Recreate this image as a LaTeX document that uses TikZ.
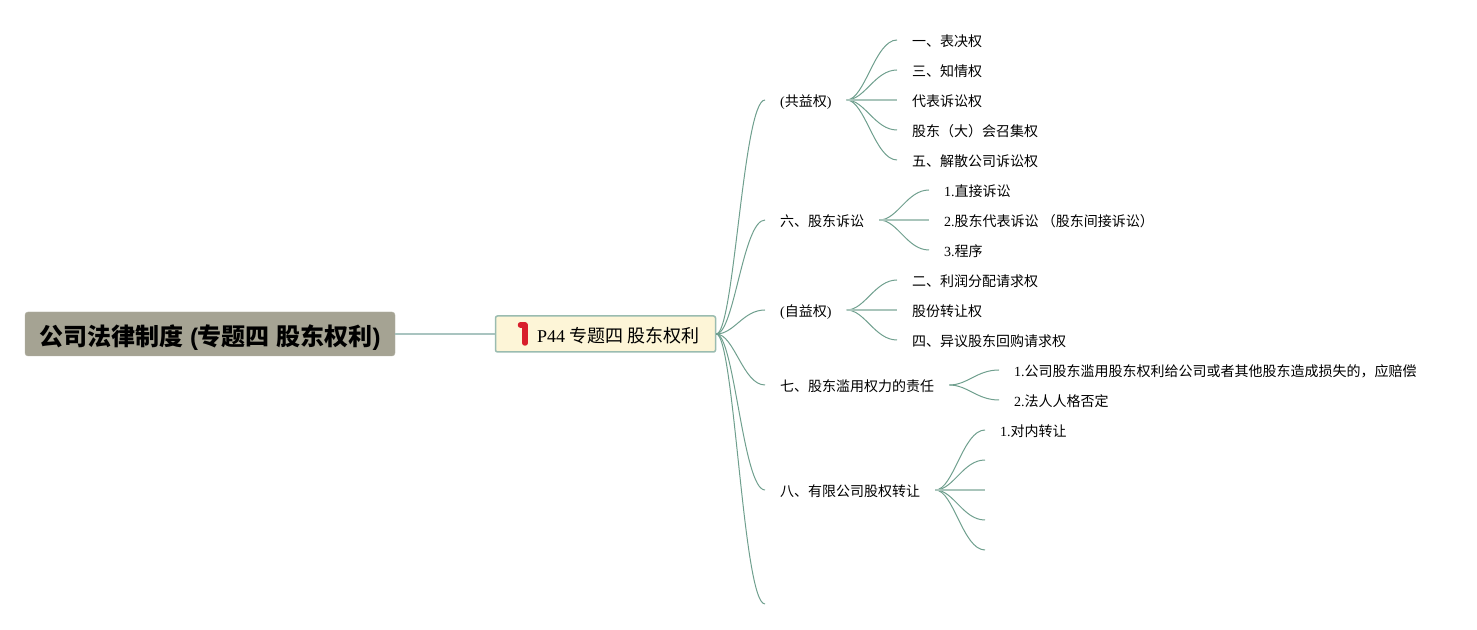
\documentclass[tikz,border=0pt]{standalone}
\usepackage{fontspec}
\setmainfont{Liberation Serif}
\newfontfamily\cjk{Noto Sans CJK SC}
\newfontfamily\titlefont{Liberation Sans}[BoldFont={Liberation Sans Bold}]
\newfontfamily\titlecjk{Noto Sans CJK SC Bold}
\usepackage{tikz}
\usetikzlibrary{positioning, arrows.meta, calc}

\begin{document}
\begin{tikzpicture}[
		x=1pt, y=1pt,
		rootnode/.style={fill=rootfill, draw=rootfill!85!white, rounded corners=3pt, minimum width=370pt, minimum height=44pt, inner sep=0pt, text height=23pt, text depth=0pt, font=\fontsize{24}{28}\selectfont\titlefont\bfseries},
		topicnode/.style={fill=topicfill, draw=linecol!70!white, line width=1.5pt, rounded corners=2pt, minimum width=220pt, minimum height=36pt, inner sep=0pt, font=\fontsize{18}{22}\selectfont},
		textnode/.style={anchor=west, inner xsep=15pt, inner ysep=2pt, text height=12.6pt, text depth=0pt, font=\fontsize{14}{16}\selectfont},
		rootline/.style={draw=rootlinecol, line width=1.3pt},
		branch/.style={draw=linecol, line width=1pt, to path={.. controls +(18,0) and +(-22,0) .. (\tikztotarget)}},
		straightline/.style={draw=linecol!60!white, line width=1.6pt}
		]
		\definecolor{rootfill}{HTML}{A5A393}
		\definecolor{topicfill}{HTML}{FDF5D7}
		\definecolor{linecol}{HTML}{6F9F8E}
		\definecolor{rootlinecol}{HTML}{A9C4C0}
		\definecolor{iconred}{HTML}{D81E2C}
		\useasboundingbox (0,0) rectangle (1477,629);
		
		% ----- Root and topic -----
		\node[rootnode] (root) at (210,295) {{\titlecjk 公司法律制度} ({\titlecjk 专题四} {\titlecjk 股东权利})};
		\node[topicnode] (topic) at (605.5,295) {};
		\node[anchor=west, inner sep=0pt, font=\fontsize{18}{22}\selectfont] (topictext) at (537,293) {P44 {\cjk 专题四 股东权利}};
		\draw[rootline] (root) -- (topic);
		\draw[line width=5.5pt, iconred, line cap=round, line join=round] (520.5,304) -- (525,304) -- (525,286);
		
		% ----- First level -----
		\node[textnode] (gongyi) at (765,529) {({\cjk 共益权})};
		\node[textnode] (susong) at (765,409) {{\cjk 六、股东诉讼}};
		\node[textnode] (ziyi) at (765,319) {({\cjk 自益权})};
		\node[textnode] (lanyong) at (765,244) {{\cjk 七、股东滥用权力的责任}};
		\node[textnode] (zhuanrang) at (765,139) {{\cjk 八、有限公司股权转让}};
		\coordinate (last) at (765,25);
		
		\foreach \n in {gongyi, susong, ziyi, lanyong, zhuanrang}
			\draw[branch] (topic.east) to (\n.west);
		\draw[branch] (topic.east) to (last);
		
		% Children of gongyi
		\node[textnode] (g1) at (897,589) {{\cjk 一、表决权}};
		\node[textnode] (g2) at (897,559) {{\cjk 三、知情权}};
		\node[textnode] (g3) at (897,529) {{\cjk 代表诉讼权}};
		\node[textnode] (g4) at (897,499) {{\cjk 股东（大）会召集权}};
		\node[textnode] (g5) at (897,469) {{\cjk 五、解散公司诉讼权}};
		\foreach \n in {g1, g2, g4, g5}
			\draw[branch] (gongyi.east) to (\n.west);
		\draw[straightline] (gongyi.east) -- (g3.west);
		
		% Children of susong
		\node[textnode] (s1) at (929,439) {1.{\cjk 直接诉讼}};
		\node[textnode] (s2) at (929,409) {2.{\cjk 股东代表诉讼 （股东间接诉讼）}};
		\node[textnode] (s3) at (929,379) {3.{\cjk 程序}};
		\foreach \n in {s1, s3}
			\draw[branch] (susong.east) to (\n.west);
		\draw[straightline] (susong.east) -- (s2.west);
		
		% Children of ziyi
		\node[textnode] (z1) at (897,349) {{\cjk 二、利润分配请求权}};
		\node[textnode] (z2) at (897,319) {{\cjk 股份转让权}};
		\node[textnode] (z3) at (897,289) {{\cjk 四、异议股东回购请求权}};
		\foreach \n in {z1, z3}
			\draw[branch] (ziyi.east) to (\n.west);
		\draw[straightline] (ziyi.east) -- (z2.west);
		
		% Children of lanyong
		\node[textnode] (l1) at (999,259) {1.{\cjk 公司股东滥用股东权利给公司或者其他股东造成损失的，应赔偿}};
		\node[textnode] (l2) at (999,229) {2.{\cjk 法人人格否定}};
		\foreach \n in {l1, l2}
			\draw[branch] (lanyong.east) to (\n.west);
		
		% Children of zhuanrang
		\node[textnode] (t1) at (985,199) {1.{\cjk 对内转让}};
		\coordinate (t2) at (985,169);
		\coordinate (t3) at (985,139);
		\coordinate (t4) at (985,109);
		\coordinate (t5) at (985,79);
		\draw[branch] (zhuanrang.east) to (t1.west);
		\foreach \n in {t2, t4, t5}
			\draw[branch] (zhuanrang.east) to (\n);
		\draw[straightline] (zhuanrang.east) -- (t3);
		
	\end{tikzpicture}
\end{document}
